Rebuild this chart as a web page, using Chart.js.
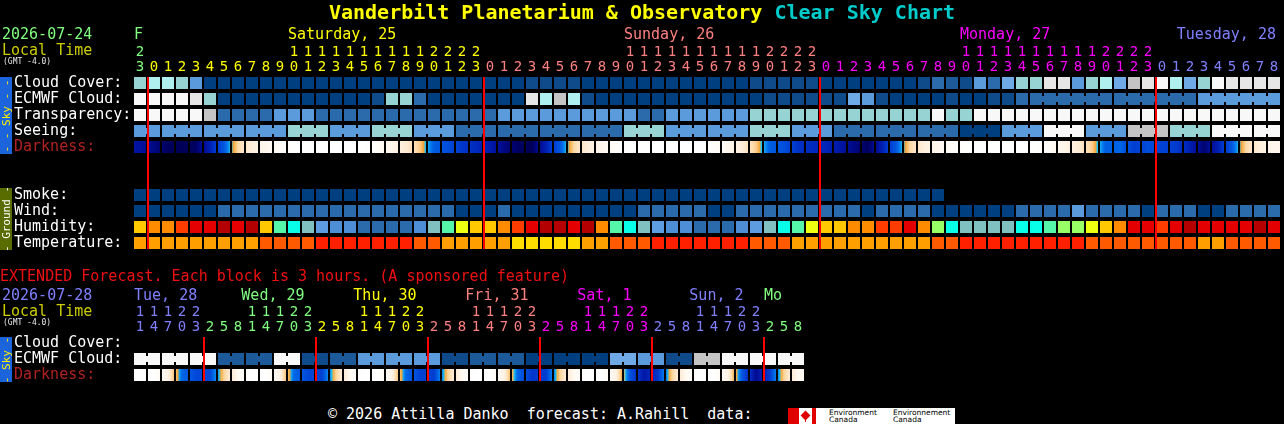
<!DOCTYPE html>
<html><head><meta charset="utf-8">
<script src="https://cdn.jsdelivr.net/npm/chart.js@4.4.1/dist/chart.umd.min.js"></script>
<style>
html,body{margin:0;padding:0;background:#000;width:1284px;height:424px;overflow:hidden;}
#wrap{position:relative;width:1284px;height:424px;font-family:'DejaVu Sans Mono',monospace;}
.t{position:absolute;white-space:pre;line-height:1;}
canvas{position:absolute;left:0;}
</style></head><body><div id="wrap">
<canvas id="main" width="1284" height="253" style="top:0px;width:1284px;height:253px"></canvas>
<canvas id="ext" width="1284" height="125" style="top:260px;width:1284px;height:125px"></canvas>
</div>
<script>
// ---------------- DATA ----------------
const mainHours = [23,
 0,1,2,3,4,5,6,7,8,9,10,11,12,13,14,15,16,17,18,19,20,21,22,23,
 0,1,2,3,4,5,6,7,8,9,10,11,12,13,14,15,16,17,18,19,20,21,22,23,
 0,1,2,3,4,5,6,7,8,9,10,11,12,13,14,15,16,17,18,19,20,21,22,23,
 0,1,2,3,4,5,6,7,8];
const mainDayNames = ['F','Saturday, 25','Sunday, 26','Monday, 27','Tuesday, 28'];
const extHours = [11,14,17,20,23,
 2,5,8,11,14,17,20,23, 2,5,8,11,14,17,20,23, 2,5,8,11,14,17,20,23,
 2,5,8,11,14,17,20,23, 2,5,8,11,14,17,20,23, 2,5,8];
const extDayNames = ['Tue, 28','Wed, 29','Thu, 30','Fri, 31','Sat, 1','Sun, 2','Mo'];

// cloud-type rows: index into cloud palette (0 clear ... 10 overcast)
const cloudCover = [6,7,7,6,4,
 0,0,0,0,0,0,0,0,0,0,0,0,0,0,0,0,0,0,0,0,0,0,0,
 1,1,1,1, 0,0,0,0,0,0,0,0,0,0,0,0, 1,1,1,1,1, 0,0,0,0,0,0,0,
 1,3,2,1,4,3,5,6,6,9,9,4,6,7,5,8,9,10,7,5,6,10,9,9,9,9];
const ecmwfCloud = [10,10,10,10,9,6,
 0,0,0,0,0,0,0,0,0,0,0, 1,6,6,3, 0,0,0,0,0,0,0, 9,7,8,7,1,
 0,0,0,0,0,0,0,0,0,0,0,0, 1,1,1,1,1,1, 5,4,1, 0,0,0,0, 1,0,0,1,1,
 3,3,3,3,3,3,3,3,3,3,3,3,3, 4,4,4,4,4,4];
const transparency = [10,10,10,10,10,8,3,3,3,3,4,4,4,
 3,3,3,3,3,3,3,3,3,3,3,3,3, 4,4,4,4,4,4,4,4,4,4, 3,3, 4,4,4,4,4,4,
 6,6,6,6,6,6,6,6,6,6,6,6,6, 10,6,6,
 10,10,10,10,10,10,10,10,10,10,10,10,10,10,10,10,10,10,10,10,10,10];
const seeing = [4,4,4,4,4,4,4,4,4,4,4, 6,6,6, 4,4,4, 6,6,6, 4,4,4,
 3,3,3,3,3,3,3,3,3,3,3,3, 6,6,6, 4,4,4,4,4,4, 6,6,6, 4,4,4,
 3,3,3,3,3,3,3,3,3, 0,0,0, 4,4,4, 10,10,10, 4,4,4, 8,8,8, 6,6,6, 10,10,10,10,10];
// darkness: approximate limiting-magnitude style value (-4 daylight ... 6.6 deepest dark)
const darkness = [5.0,5.6,6.3,6.4,6.2,4.4,2.4,-1.2,-2.5,-3.2,-3.7,-4,-4,-4,-4,-4,-4,-3.7,-3.0,-2.2,-0.8,2.2,2.8,3.6,4.0,
 4.6,5.6,6.2,6.4,4.4,2.4,-1.2,-2.5,-3.2,-3.7,-4,-4,-4,-4,-4,-4,-3.8,-3.3,-2.4,-0.9,2.2,2.7,3.8,4.0,
 4.2,4.8,5.6,6.3,4.4,2.4,-1.2,-2.5,-3.2,-3.7,-4,-4,-4,-4,-4,-4,-3.7,-3.0,-2.3,-0.9,2.2,1.9,3.4,2.8,
 3.2,3.4,4.4,6.0,4.4,2.4,-1.2,-2.5,-3.2];
const smoke = [0,0,0,0,0,0,0,0,0,0,0,0,0,0,0,0,0,0,0,0,0,0,0,0,0,0,0,0,0,0,
 0,0,0,0,0,0,0,0,0,0,0,0,0,0,0,0,0,0,0,0,0,0,0,0,0,0,0,0];
const wind = [0,0,0,0,0,0, 1,1,1,1,1,1,1,1,1,1,1,1,1,1,1,1,1, 0,0,0, 1,
 0,0,0,0,0,0,0,0,0, 1,1,1,1,1, 0,0, 1,1,1,1,1,1,1,1,1, 0, 1,1,1,1,
 0,0,0,0,0,0, 1,1,1,1, 2, 1,1,1,1, 0, 1,1,1, 0,0, 1,1,1,1];
const humidity = [8,9,9,10,11,11,12,11,12,8,5,4,3,2,1,1,0,0,0,0,1,3,5,7,8,
 8,9,10,11,12,12,11,12,9,5,4,3,2,1,1,0,0,0,1,2,3,4,5,7,
 8,8,9,9,10,10,11,9,6,4,3,3,3,3,4,4,5,6,6,7,8,9,11,11,
 10,11,12,11,11,11,11,12,11];
const temperature = [1,1,1,1,1,1,1,1,1, 2,2,2,2, 3,3,3,3,3,3,3, 2,2, 1,1,1,1,1,
 0,0,0,0,0, 1,1, 2,2,2, 3,3,3,3,3,3,3, 2,2,2, 1,1,1,1,1,1,1,1,1,1,
 2,2, 3,3,3,3,3,3,3,3,3, 2,2,2,2,2,2,2,2, 1,1, 2,2,2,2];
const extEcmwfCloud = [10,10,10,10,10,10, 2,2,2,2, 10,10, 1,1, 2,2, 4,4,4,4,4,4, 1,1,
 2,2,2,2, 0,0,0,0,0,0, 5,5, 4,4, 1,1, 8,8, 10,10,10,10,10,10];
const extDarkness = [-4,-4,-2.8,1.8,3.0,
 3.0,-1.0,-3.4,-4,-4,-2.8,1.8,3.0,
 3.2,-1.0,-3.4,-4,-4,-2.8,1.8,3.2,
 3.4,-1.0,-3.4,-4,-4,-2.8,2.0,3.6,
 3.4,-1.0,-3.4,-4,-4,-2.8,2.6,4.8,
 3.6,-1.0,-3.4,-4,-4,-2.8,2.4,5.4,
 3.4,-1.0,-3.4];
const ecmwfSixHourFromCol = 64;

// ---------------- STYLE ----------------
const CLOUD_PAL = ['#003F7F','#0F4B8B','#1D5A99','#2B6BAB','#5B9BDC','#6FAAE6','#98D3D3','#B0EFEF','#C4C4C4','#E6E6E6','#F8F8F8'];
const HUM_PAL = ['#2B6BAB','#4E8ED6','#5D9CE0','#80C0C0','#08FFE8','#55F5AA','#99FF66','#EEFF11','#FFC800','#FF8C00','#FF3C00','#E40000','#B40000'];
const TEMP_PAL = ['#FFDD00','#FFA000','#FF5A00','#FF2000'];
const WIND_PAL = ['#003F7F','#2B6BAB','#5B9BDC'];
const SMOKE_PAL = ['#003F7F'];
const DAY_COLORS = ['#80FF80','#FFFF00','#FF8080','#FF00FF','#8080FF'];
const DARK_STOPS = [[-4,'#ffffff'],[-3,'#fff5ea'],[-2,'#ffe9cf'],[-1.2,'#ffd9a8'],[-0.4,'#f9bc66'],[0.3,'#ee9a2a'],[0.36,'#28d2f0'],[1.0,'#0a8cf0'],[1.8,'#0068e6'],[2.6,'#0052de'],[3.4,'#003cd0'],[4.2,'#0024b8'],[5.0,'#0012a0'],[5.6,'#000884'],[6.2,'#000062'],[6.6,'#00004a']];

function hexRgb(h){return [parseInt(h.substr(1,2),16),parseInt(h.substr(3,2),16),parseInt(h.substr(5,2),16)];}
function darkColor(v){
  if (v<=DARK_STOPS[0][0]) return DARK_STOPS[0][1];
  for (let k=1;k<DARK_STOPS.length;k++){
    if (v<=DARK_STOPS[k][0]){
      const [a,ca]=DARK_STOPS[k-1],[b,cb]=DARK_STOPS[k];
      const f=(v-a)/(b-a), A=hexRgb(ca), B=hexRgb(cb);
      return 'rgb('+A.map((x,j)=>Math.round(x+(B[j]-x)*f)).join(',')+')';
    }
  }
  return DARK_STOPS[DARK_STOPS.length-1][1];
}
function darkFill(ctx, values){
  if (ctx.type!=='data') return '#000';
  const chart=ctx.chart, xs=chart.scales && chart.scales.x, i=ctx.dataIndex, v=values[i];
  const L = i>0 ? (values[i-1]+v)/2 : v;
  const R = i<values.length-1 ? (v+values[i+1])/2 : v;
  if (L===v && R===v) return darkColor(v);
  const px = xs ? xs.getPixelForValue(i) : NaN;
  if (!isFinite(px)) return darkColor(v);
  const g = chart.ctx.createLinearGradient(px-6,0,px+6,0);
  const N=12;
  for (let k=0;k<=N;k++){const f=k/N; const val = f<0.5 ? L+(v-L)*f*2 : v+(R-v)*(f-0.5)*2; g.addColorStop(f, darkColor(val));}
  return g;
}

function dayIndexOf(hours){const d=[];let k=0;hours.forEach((h,i)=>{if(i>0&&h<hours[i-1])k++;d.push(k);});return d;}
const mainDay = dayIndexOf(mainHours), extDay = dayIndexOf(extHours);
const mainColor = i => DAY_COLORS[mainDay[i]%5];
const extColor = i => DAY_COLORS[(extDay[i]+4)%5];

const BASE = {type:'bar', grouped:false, barThickness:12, inflateAmount:0, borderWidth:0, borderSkipped:false, order:1};
function cells(values,row,pal){return {...BASE, data:values.map((v,i)=>({x:i,y:[row,row+0.75]})), backgroundColor:values.map(v=>pal[v])};}
function bridges(values,row,pal,same){
  const data=[],colors=[];
  for(let i=0;i<values.length-1;i++) if(same(i,i+1)){data.push({x:i+0.5,y:[row+0.1875,row+0.5625]});colors.push(pal[values[i]]);}
  return {...BASE, barThickness:4, data, backgroundColor:colors};
}
function darkCells(values,row){return {...BASE, data:values.map((v,i)=>({x:i,y:[row,row+0.75]})), backgroundColor:(c)=>darkFill(c,values)};}
function midnightLines(hours,span){
  const data=[];for(let i=0;i<hours.length-1;i++) if(hours[i+1]<hours[i]) data.push({x:i+0.5+1/14,y:[0,span]});
  return {...BASE, order:0, barThickness:2, data, backgroundColor:'#FF0000'};
}
const seeKey = h => Math.floor(((h+2)%24)/3);
const sameSeeing = (a,b) => seeKey(mainHours[a])===seeKey(mainHours[b]);
const ecKey = h => Math.floor(((h+3)%24)/6);
const sameEcmwf = (a,b) => a>=ecmwfSixHourFromCol && ecKey(mainHours[a])===ecKey(mainHours[b]);
const extKey = h => Math.floor(((h+1)%24)/6);
const sameExt = (a,b) => extKey(extHours[a])===extKey(extHours[b]);

Chart.defaults.font.family = "'DejaVu Sans Mono'";
function makeChart(id,hours,nRows,colorFn,datasets){
  const ch = new Chart(document.getElementById(id),{
    type:'bar', data:{datasets},
    options:{responsive:false, animation:false, events:[],
      layout:{padding:{left:133,right:3,top:0,bottom:0}},
      plugins:{legend:{display:false},tooltip:{enabled:false}},
      scales:{
        x:{type:'linear',position:'top',min:-0.5,max:81.5,bounds:'data',offset:false,
          grid:{display:false,drawTicks:false},border:{display:false},
          afterBuildTicks:(s)=>{s.ticks=hours.map((h,i)=>({value:i}));},
          afterFit:(s)=>{s.height=77;},
          ticks:{autoSkip:false,maxRotation:0,minRotation:0,padding:2.5,
            font:{family:"'DejaVu Sans Mono'",size:14,lineHeight:15/14},
            color:(c)=>colorFn(c.index),
            callback:(v,i)=>{const h=hours[i];return [h>=10?String(Math.floor(h/10)):'',String(h%10)];}}},
        y:{type:'linear',min:0,max:nRows,reverse:true,display:false}
      }}
  });
  ch.update();
  return ch;
}

const mainChart = makeChart('main',mainHours,11,mainColor,[
  midnightLines(mainHours,10.75),
  cells(cloudCover,0,CLOUD_PAL),
  cells(ecmwfCloud,1,CLOUD_PAL), bridges(ecmwfCloud,1,CLOUD_PAL,sameEcmwf),
  cells(transparency,2,CLOUD_PAL),
  cells(seeing,3,CLOUD_PAL), bridges(seeing,3,CLOUD_PAL,sameSeeing),
  darkCells(darkness,4),
  cells(smoke,7,SMOKE_PAL), cells(wind,8,WIND_PAL), cells(humidity,9,HUM_PAL), cells(temperature,10,TEMP_PAL)
]);
const extChart = makeChart('ext',extHours,3,extColor,[
  midnightLines(extHours,2.75),
  cells(extEcmwfCloud,1,CLOUD_PAL), bridges(extEcmwfCloud,1,CLOUD_PAL,sameExt),
  darkCells(extDarkness,2)
]);

// ---------------- TEXT ----------------
const wrap=document.getElementById('wrap');
function txt(s,x,capTop,size,color,extra){
  const d=document.createElement('div');d.className='t';d.textContent=s;
  Object.assign(d.style,{left:x+'px',top:(capTop-0.117*size)+'px',fontSize:size+'px',color});
  if(extra)Object.assign(d.style,extra);wrap.appendChild(d);return d;
}
const title=document.createElement('div');title.className='t';
Object.assign(title.style,{left:'0px',width:'1284px',textAlign:'center',top:(4-0.117*20)+'px',fontSize:'20px',fontWeight:'bold'});
const t1=document.createElement('span');t1.textContent='Vanderbilt Planetarium & Observatory ';t1.style.color='#FFFF00';
const t2=document.createElement('span');t2.textContent='Clear Sky Chart';t2.style.color='#00CCCC';
title.appendChild(t1);title.appendChild(t2);wrap.appendChild(title);

function headerBlock(dateStr,dateColor,y0){
  txt(dateStr,2,y0,15,dateColor);
  txt('Local Time',2,y0+16,15,'#CCCC00');
  txt('(GMT -4.0)',3,y0+30,8,'#E8E8E8');
}
headerBlock('2026-07-24',DAY_COLORS[0],29);
headerBlock('2026-07-28',DAY_COLORS[4],290);

const CW=9.03;
const mxs=mainChart.scales.x;
mainDayNames.forEach((name,k)=>{
  const cols=mainHours.map((h,i)=>i).filter(i=>mainDay[i]===k);
  const c10=cols.find(i=>mainHours[i]===10);
  let x;
  if(c10!==undefined) x=mxs.getPixelForValue(c10)-6;
  else if(k===0) x=mxs.getPixelForValue(cols[0])-6;
  else x=mxs.getPixelForValue(cols[cols.length-1])+2-name.length*CW;
  txt(name,x,29,15,DAY_COLORS[k%5]);
});
const exs=extChart.scales.x;
extDayNames.forEach((name,k)=>{
  const cols=extHours.map((h,i)=>i).filter(i=>extDay[i]===k);
  const f=cols[0];
  let pos=f+(10-extHours[f])/3;
  if(pos<0) pos=0;
  const last=extHours.length-1;
  if(pos+ name.length*CW/14 > last+0.5) pos=f;
  txt(name,exs.getPixelForValue(pos)-6,290,15,DAY_COLORS[(k+4)%5]);
});

const skyLabels=['Cloud Cover:','ECMWF Cloud:','Transparency:','Seeing:','Darkness:'];
const groundLabels=['Smoke:','Wind:','Humidity:','Temperature:'];
const extLabels=['Cloud Cover:','ECMWF Cloud:','Darkness:'];
skyLabels.forEach((s,r)=>txt(s,14,77+16*r,15,s==='Darkness:'?'#B22222':'#FFFFFF'));
groundLabels.forEach((s,r)=>txt(s,14,189+16*r,15,'#FFFFFF'));
extLabels.forEach((s,r)=>txt(s,14,337+16*r,15,s==='Darkness:'?'#B22222':'#FFFFFF'));

txt('EXTENDED Forecast. Each block is 3 hours. (A sponsored feature)',0,271,15,'#F01010');
txt('\u00A9 2026 Attilla Danko  forecast: A.Rahill  data:',328,409,15,'#FFFFFF');

function sideBar(top,height,bg,label,color){
  const d=document.createElement('div');
  Object.assign(d.style,{position:'absolute',left:'0px',top:top+'px',width:'12px',height:height+'px',background:bg,overflow:'hidden'});
  const s=document.createElement('div');s.textContent=label;
  Object.assign(s.style,{position:'absolute',left:'50%',top:'50%',transform:'translate(-50%,-50%) rotate(-90deg)',color,fontSize:'11px',whiteSpace:'pre',lineHeight:'11px',fontFamily:"'DejaVu Sans Mono'"});
  d.appendChild(s);wrap.appendChild(d);
}
sideBar(77,77,'#1C64DC','- - Sky - -','#FFEE00');
sideBar(188,62,'#586C00','- Ground -','#FFFFFF');
sideBar(337,45,'#1C64DC','- Sky -','#FFEE00');

(function(){
  const box=document.createElement('div');
  Object.assign(box.style,{position:'absolute',left:'788px',top:'408px',width:'167px',height:'16px',background:'#FFFFFF',overflow:'hidden'});
  const r1=document.createElement('div');Object.assign(r1.style,{position:'absolute',left:'0px',top:'0px',width:'11px',height:'16px',background:'#E00000'});
  const r2=document.createElement('div');Object.assign(r2.style,{position:'absolute',left:'24px',top:'0px',width:'4px',height:'16px',background:'#E00000'});
  const leaf=document.createElement('div');Object.assign(leaf.style,{position:'absolute',left:'14px',top:'4px',width:'7px',height:'7px',background:'#E00000',transform:'rotate(45deg)'});
  const stem=document.createElement('div');Object.assign(stem.style,{position:'absolute',left:'17px',top:'10px',width:'1px',height:'4px',background:'#E00000'});
  box.appendChild(r1);box.appendChild(r2);box.appendChild(leaf);box.appendChild(stem);
  [['Environment\nCanada',41],['Environnement\nCanada',105]].forEach(([s,x])=>{
    const t=document.createElement('div');t.textContent=s;
    Object.assign(t.style,{position:'absolute',left:x+'px',top:'1px',fontSize:'7.5px',lineHeight:'7px',whiteSpace:'pre',color:'#000',fontFamily:"'DejaVu Sans'"});
    box.appendChild(t);
  });
  wrap.appendChild(box);
})();
</script></body></html>
